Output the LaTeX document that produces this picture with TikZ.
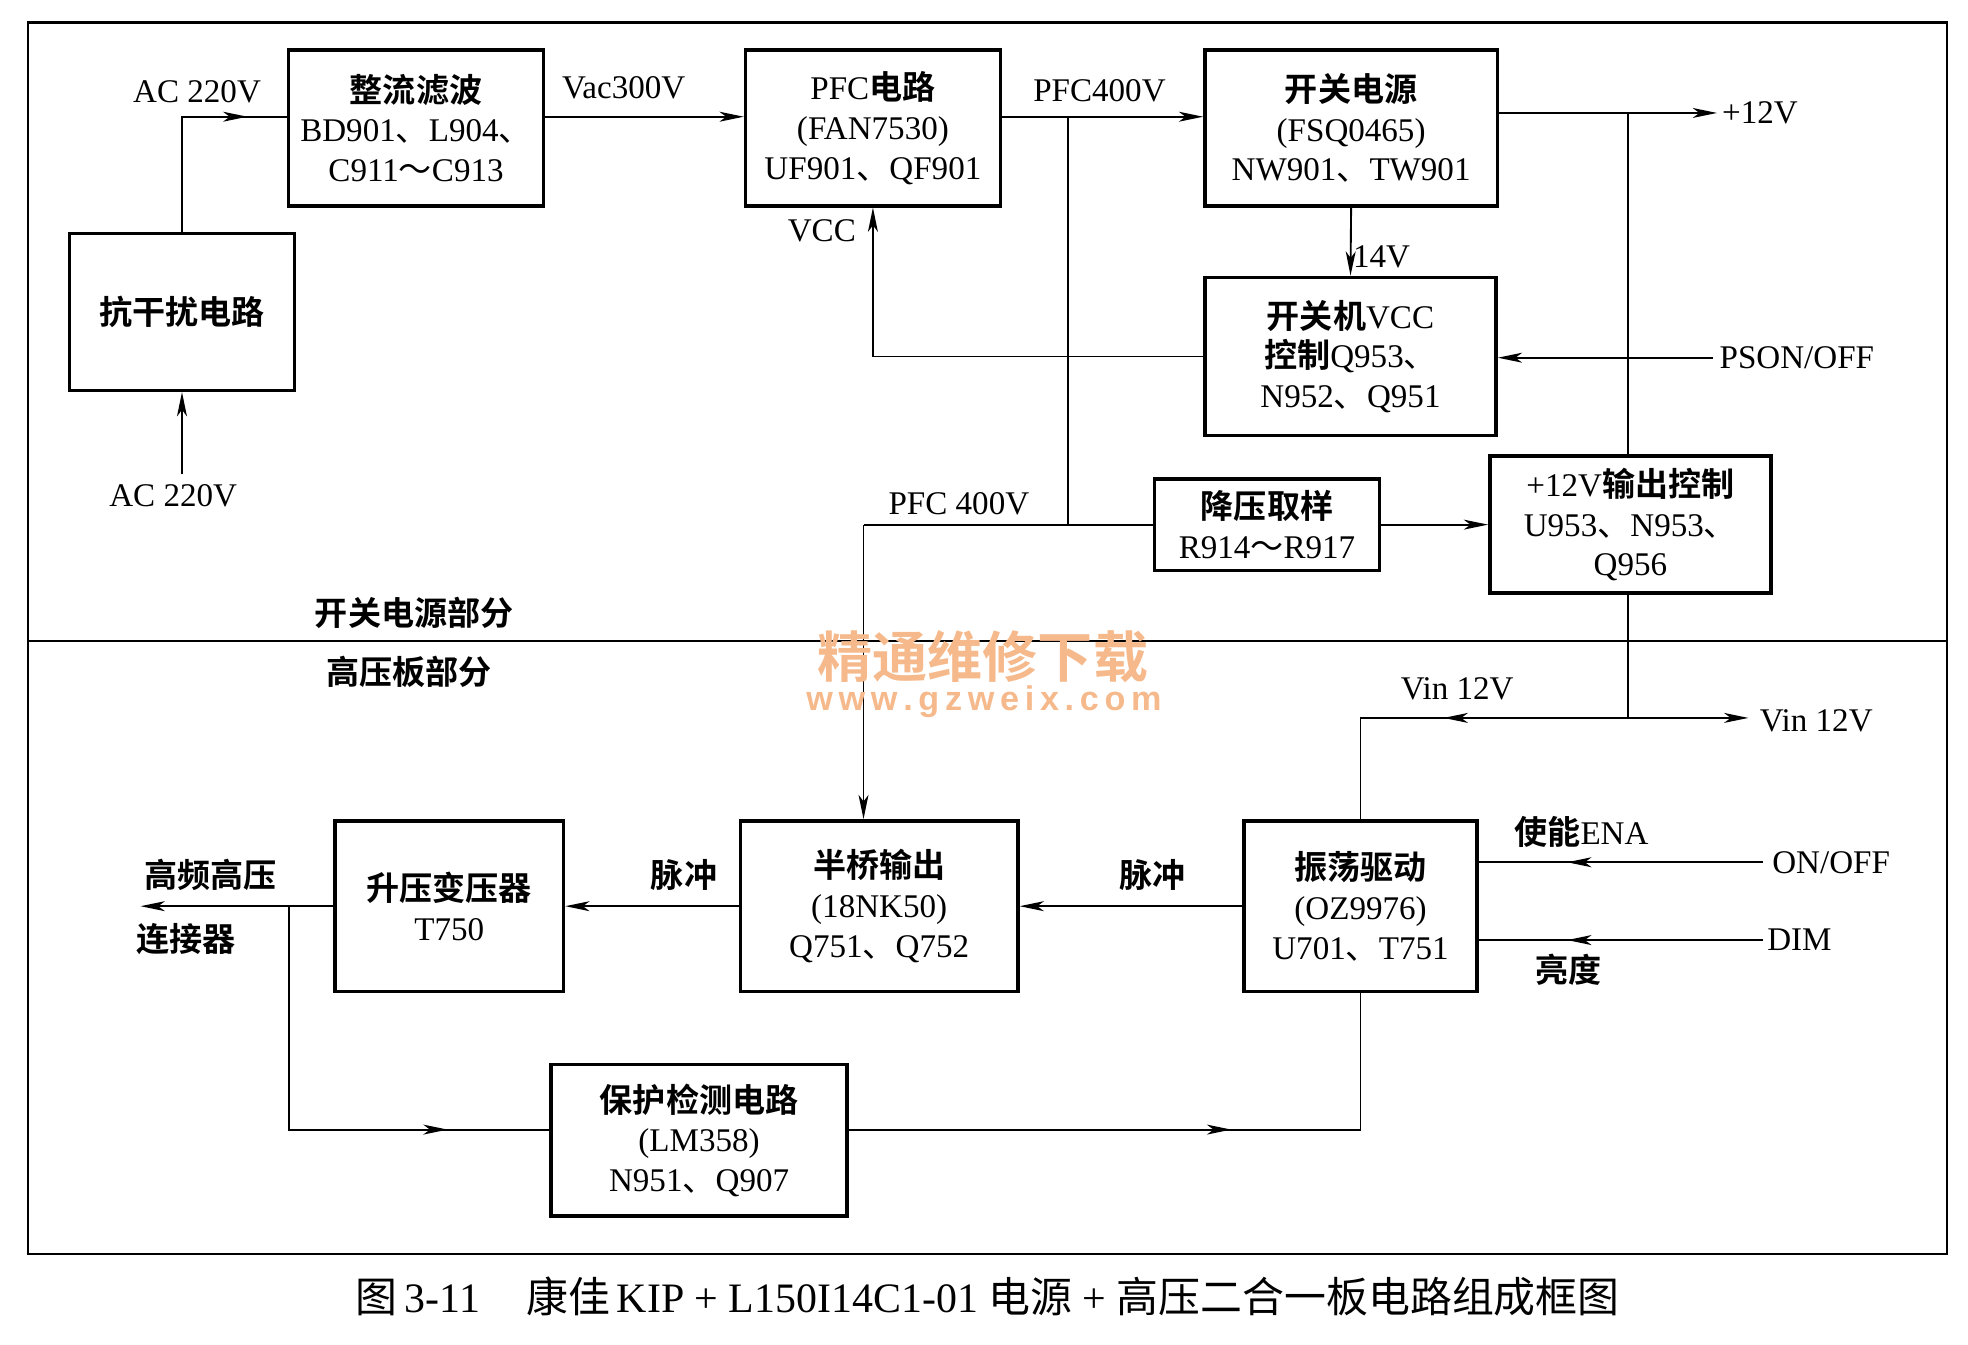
\documentclass[tikz,border=0pt]{standalone}
\usepackage{fontspec}
\setmainfont{Liberation Serif}
\setsansfont{Liberation Sans}
\newfontfamily\hei{Noto Sans CJK SC Bold}
\newfontfamily\song{Noto Sans CJK SC}
\usetikzlibrary{arrows.meta, positioning, decorations.markings}
\newcommand{\zh}[1]{{\hei #1}}
\newcommand{\dun}{{\song 、}}
\newcommand{\tld}{{\song ～}}
\definecolor{wmorange}{RGB}{245,185,140}

\begin{document}
\begin{tikzpicture}[
    x=0.02cm, y=-0.02cm,
    box/.style={draw,line width=1.6pt,align=center,inner sep=0pt,
                font=\fontsize{15}{18}\selectfont},
    lbl/.style={font=\fontsize{15}{18}\selectfont,inner sep=1pt},
    line/.style={line width=0.85pt},
    arr/.style={line,-{Stealth[length=11pt,width=4.5pt,inset=3pt]}},
    midarr/.style={line,decoration={markings,
        mark=at position #1 with {\arrow{Stealth[length=11pt,width=4.5pt,inset=3pt]}}},
        postaction={decorate}}
]
  \useasboundingbox (0,0) rectangle (1568,1071);

  % Frame
  \draw[line width=1pt] (22,18) rectangle (1551,999);
  \draw[line width=1pt] (22,511) -- (1551,511);

  % Boxes, power part
  \node[box,minimum width=4.06cm,minimum height=2.48cm] (rect) at (331.5,102)
    {\zh{整流滤波}\\BD901\dun L904\dun\\C911\tld C913};
  \node[box,minimum width=4.06cm,minimum height=2.48cm] (pfc) at (695.5,102)
    {PFC\zh{电路}\\(FAN7530)\\UF901\dun QF901};
  \node[box,minimum width=4.66cm,minimum height=2.48cm] (smps) at (1076.5,102)
    {\zh{开关电源}\\(FSQ0465)\\NW901\dun TW901};
  \node[box,minimum width=3.58cm,minimum height=2.5cm] (noise) at (145,248.5)
    {\zh{抗干扰电路}};
  \node[box,minimum width=4.64cm,minimum height=2.52cm] (vcc) at (1076,284)
    {\zh{开关机}VCC\\\zh{控制}Q953\dun\\N952\dun Q951};
  \node[box,minimum width=3.58cm,minimum height=1.46cm] (buck) at (1009.5,418)
    {\zh{降压取样}\\R914\tld R917};
  \node[box,minimum width=4.48cm,minimum height=2.18cm] (out12) at (1299,418)
    {+12V\zh{输出控制}\\U953\dun N953\dun\\Q956};

  % Boxes, inverter part
  \node[box,minimum width=3.64cm,minimum height=2.72cm] (boost) at (358,722)
    {\zh{升压变压器}\\T750};
  \node[box,minimum width=4.42cm,minimum height=2.72cm] (half) at (700.5,722)
    {\zh{半桥输出}\\(18NK50)\\Q751\dun Q752};
  \node[box,minimum width=3.72cm,minimum height=2.72cm] (osc) at (1084,722)
    {\zh{振荡驱动}\\(OZ9976)\\U701\dun T751};
  \node[box,minimum width=4.72cm,minimum height=2.42cm] (prot) at (557,908.5)
    {\zh{保护检测电路}\\(LM358)\\N951\dun Q907};

  % Points
  \coordinate (row) at (0,93);
  \coordinate (acin) at (145,378);
  \coordinate (jpfc) at (851,93);
  \coordinate (jbuck) at (851,418);
  \coordinate (jhalf) at (688,418);
  \coordinate (p12) at (1368,90);
  \coordinate (j12) at (1297,90);
  \coordinate (pson) at (1365,285);
  \coordinate (jvin) at (1297,572);
  \coordinate (vinout) at (1393,572);
  \coordinate (hvout) at (112,722);
  \coordinate (jhv) at (230,722);
  \coordinate (fb) at (0,900);
  \coordinate (onoff) at (1405,687);
  \coordinate (dim) at (1405,749);

  % Arrows, power part
  \draw[arr] (acin) -- (noise.south);
  \draw[midarr=0.82] (noise.north) |- (rect.west |- row);
  \draw[arr] (rect.east |- row) -- (pfc.west |- row);
  \draw[arr] (pfc.east |- row) -- (smps.west |- row);
  \draw[line] (jpfc) -- (jbuck) -- (buck.west);
  \draw[line] (jbuck) -- (jhalf);
  \draw[arr] (jhalf) -- (jhalf |- half.north);
  \draw[arr] (buck.east) -- (out12.west);
  \draw[arr] (smps.east |- p12) -- (p12);
  \draw[line] (j12) -- (j12 |- out12.north);
  \draw[arr] (smps.south) -- (vcc.north);
  \draw[arr] (pson) -- (vcc.east |- pson);
  \draw[arr] (vcc.west) -| (pfc.south);

  % Arrows, inverter part
  \draw[line] (out12.south -| jvin) -- (jvin);
  \draw[arr] (jvin) -- (vinout);
  \draw[midarr=0.5] (jvin) -| (osc.north);
  \draw[arr] (osc.west) -- (half.east);
  \draw[arr] (half.west) -- (boost.east);
  \draw[arr] (boost.west) -- (hvout);
  \draw[midarr=0.79] (jhv) |- (prot.west |- fb);
  \draw[midarr=0.59] (prot.east |- fb) -| (osc.south);
  \draw[midarr=0.69] (onoff) -- (osc.east |- onoff);
  \draw[midarr=0.69] (dim) -- (osc.east |- dim);

  % Labels
  \node[lbl] (lac1) at (157,73) {AC 220V};
  \node[lbl] (lac2) at (138,395) {AC 220V};
  \node[lbl] (lvac) at (497,70) {Vac300V};
  \node[lbl] (lpfc) at (876,72) {PFC400V};
  \node[lbl,anchor=west] (l12) at (1370,90) {+12V};
  \node[lbl,anchor=east] (lvcc) at (684,184) {VCC};
  \node[lbl,anchor=west] (l14) at (1076,205) {14V};
  \node[lbl,anchor=west] (lpson) at (1368,285) {PSON/OFF};
  \node[lbl] (lpfc2) at (764,401) {PFC 400V};
  \node[lbl] (lsec1) at (330,488) {\zh{开关电源部分}};
  \node[lbl] (lsec2) at (326,535) {\zh{高压板部分}};
  \node[lbl] (lvin1) at (1161,549) {Vin 12V};
  \node[lbl,anchor=west] (lvin2) at (1400,574) {Vin 12V};
  \node[lbl] (lena) at (1260,663) {\zh{使能}ENA};
  \node[lbl,anchor=west] (lonoff) at (1410,687) {ON/OFF};
  \node[lbl,anchor=west] (ldim) at (1406,749) {DIM};
  \node[lbl] (lbright) at (1250,773) {\zh{亮度}};
  \node[lbl] (lpulse1) at (545,697) {\zh{脉冲}};
  \node[lbl] (lpulse2) at (918,697) {\zh{脉冲}};
  \node[lbl] (lhv) at (168,697) {\zh{高频高压}};
  \node[lbl] (lconn) at (148,748) {\zh{连接器}};

  % Watermark
  \node[text=wmorange,inner sep=0pt,font=\hei\fontsize{25}{25}\selectfont] (wm) at (783,523) {精通维修下载};
  \node[text=wmorange,inner sep=0pt,font=\sffamily\bfseries\fontsize{15.5}{16}\selectfont] (wmurl) at (784,559)
    {w\,w\,w\,.\,g\,z\,w\,e\,i\,x\,.\,c\,o\,m};

  % Caption
  \node[font=\fontsize{19}{22}\selectfont] (cap) at (787,1033)
    {{\song 图}\,3-11\hspace{1.1em}{\song 康佳}\,KIP + L150I14C1-01 {\song 电源} + {\song 高压二合一板电路组成框图}};
\end{tikzpicture}
\end{document}
